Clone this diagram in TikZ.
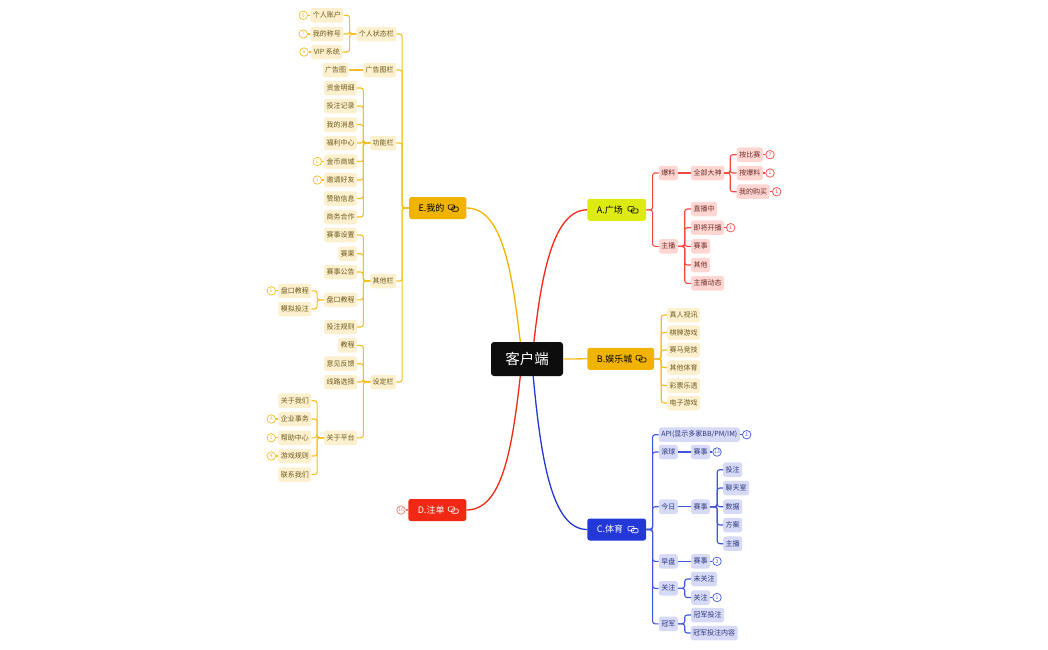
\documentclass[tikz,border=0pt]{standalone}
\usepackage{fontspec}
\setmainfont{Noto Sans CJK SC}
\definecolor{RootClr}{HTML}{0D0D0D}
\definecolor{LimeClr}{HTML}{DDEB12}
\definecolor{AmberClr}{HTML}{F0B400}
\definecolor{RedClr}{HTML}{F02814}
\definecolor{BlueClr}{HTML}{2438D8}
\definecolor{RedLn}{HTML}{F5483C}
\definecolor{AmbLn}{HTML}{F6BE22}
\definecolor{BluLn}{HTML}{3F55E0}
\definecolor{RedBox}{HTML}{FFD6D2}
\definecolor{AmbBox}{HTML}{FCF0CE}
\definecolor{BluBox}{HTML}{D6DAF6}
\definecolor{RedTxt}{HTML}{6E2C26}
\definecolor{AmbTxt}{HTML}{6E581C}
\definecolor{BluTxt}{HTML}{2A347C}
\tikzset{
  box/.style={rounded corners=2.5pt,minimum height=14.5pt,inner xsep=2.5pt,inner ysep=0pt,font=\fontsize{7}{8}\selectfont},
  redbox/.style={box,fill=RedBox,text=RedTxt},
  ambbox/.style={box,fill=AmbBox,text=AmbTxt},
  blubox/.style={box,fill=BluBox,text=BluTxt},
  mainbox/.style={rounded corners=2.5pt,minimum height=22pt,inner xsep=9.5pt,inner ysep=0pt,font=\fontsize{9}{10}\selectfont},
  badge/.style={circle,fill=white,draw,line width=.7pt,minimum size=8.5pt,inner sep=0pt,font=\fontsize{5}{6}\selectfont},
  redbadge/.style={badge,draw=RedLn,text=RedLn},
  ambbadge/.style={badge,draw=AmbLn,text=AmbLn},
  blubadge/.style={badge,draw=BluLn,text=BluLn},
  redln/.style={draw=RedLn,line width=1.1pt,rounded corners=2.5pt},
  ambln/.style={draw=AmbLn,line width=1.1pt,rounded corners=2.5pt},
  bluln/.style={draw=BluLn,line width=1.1pt,rounded corners=2.5pt},
  topicicon/.pic={
    \draw[line width=.6pt,rounded corners=1pt] (-5,-3.2) rectangle (1.2,1.2);
    \draw[line width=.6pt,rounded corners=1pt] (-1.5,-1) rectangle (5,3.2);
  }
}
\begin{document}
\begin{tikzpicture}[x=1pt,y=-1pt]
\useasboundingbox (0,0) rectangle (1048,649);

\node[rounded corners=3pt,fill=RootClr,text=white,minimum width=72pt,minimum height=34pt,inner sep=0pt,font=\fontsize{14.5}{16}\selectfont] (root) at (527,359) {客户端};

\node[mainbox,fill=LimeClr,text=black,text width=39.7pt] (A) at (616.7,209.8) {A.广场};
\node[mainbox,fill=AmberClr,text=black,text width=47.7pt] (B) at (620.7,358.8) {B.娱乐城};
\node[mainbox,fill=BlueClr,text=white,text width=39.7pt] (C) at (616.7,529.5) {C.体育};
\node[mainbox,fill=RedClr,text=white,text width=39pt] (D) at (437.3,510) {D.注单};
\node[mainbox,fill=AmberClr,text=black,text width=38.3pt] (E) at (437.7,208) {E.我的};
\pic[color=black] at ([xshift=-13.3pt]A.east) {topicicon};
\pic[color=black] at ([xshift=-13.3pt]B.east) {topicicon};
\pic[color=white] at ([xshift=-13.3pt]C.east) {topicicon};
\pic[color=white] at ([xshift=-13.3pt]D.east) {topicicon};
\pic[color=black] at ([xshift=-13.3pt]E.east) {topicicon};

\draw[RedClr,line width=1.3pt] (root.north east) ++(-29.3,0) coordinate (rA) .. controls (541,280) and (552,209.8) .. (A.west);
\draw[AmbLn,line width=1.3pt] (root.east) -- (B.west);
\draw[BlueClr,line width=1.3pt] (root.south east) ++(-30,0) coordinate (rC) .. controls (541,460) and (552,529.5) .. (C.west);
\draw[RedClr,line width=1.3pt] (root.south west) ++(29.5,0) coordinate (rD) .. controls (512,450) and (502,510) .. (D.east);
\draw[AmberClr,line width=1.3pt] (root.north west) ++(29.5,0) coordinate (rE) .. controls (512,270) and (502,208) .. (E.east);

% A
\node[redbox] (a1) at (668.3,173) {爆料};
\node[redbox] (a2) at (707.5,173) {全部大神};
\node[redbox] (a3) at (749.8,154.7) {按比赛};
\node[redbox] (a4) at (749.8,173) {按爆料};
\node[redbox] (a5) at (753.2,191.7) {我的购买};
\node[redbox] (a6) at (668.3,246.3) {主播};
\node[redbox] (a7) at (704,209) {直播中};
\node[redbox] (a8) at (707.5,227.7) {即将开播};
\node[redbox] (a9) at (700.5,246.3) {赛事};
\node[redbox] (a10) at (700.5,265) {其他};
\node[redbox] (a11) at (707.5,283.3) {主播动态};
\foreach \k in {a1,a6} \draw[redln] (A.east) -- ++(6.3,0) |- (\k.west);
\draw[redln] (a1) -- (a2);
\foreach \k in {a3,a4,a5} \draw[redln] (a2.east) -- ++(6,0) |- (\k.west);
\foreach \k in {a7,a8,a9,a10,a11} \draw[redln] (a6.east) -- ++(6.7,0) |- (\k.west);
\node[redbadge] (ra) at (770,154.7) {7};
\node[redbadge] (rb) at (770,173) {1};
\node[redbadge] (rc) at (776.7,191.7) {1};
\node[redbadge] (rd) at (730.7,227.7) {1};
\draw[redln] (a3) -- (ra);
\draw[redln] (a4) -- (rb);
\draw[redln] (a5) -- (rc);
\draw[redln] (a8) -- (rd);

% B
\node[ambbox] (b1) at (683.7,315) {真人视讯};
\node[ambbox] (b2) at (683.7,332.5) {棋牌游戏};
\node[ambbox] (b3) at (683.7,350) {赛马竞技};
\node[ambbox] (b4) at (683.7,367.5) {其他体育};
\node[ambbox] (b5) at (683.7,385.5) {彩票乐透};
\node[ambbox] (b6) at (683.7,403) {电子游戏};
\foreach \k in {b1,b2,b3,b4,b5,b6} \draw[ambln] (B.east) -- ++(7,0) |- (\k.west);

% C
\node[blubox] (c1) at (699.3,434.7) {API(显示多家BB/PM/IM)};
\node[blubox] (c2) at (668.3,452) {滚球};
\node[blubox] (c3) at (700.5,452) {赛事};
\node[blubox] (c4) at (668.3,506.7) {今日};
\node[blubox] (c5) at (700.5,506.7) {赛事};
\node[blubox] (c6) at (732.7,469.7) {投注};
\node[blubox] (c7) at (736.2,488) {聊天室};
\node[blubox] (c8) at (732.7,506.7) {数据};
\node[blubox] (c9) at (732.7,525) {方案};
\node[blubox] (c10) at (732.7,543.7) {主播};
\node[blubox] (c11) at (668.3,561.3) {早盘};
\node[blubox] (c12) at (700.5,561.3) {赛事};
\node[blubox] (c13) at (668.3,588.3) {关注};
\node[blubox] (c14) at (704,579) {未关注};
\node[blubox] (c15) at (700.5,597.5) {关注};
\node[blubox] (c16) at (668.3,623.8) {冠军};
\node[blubox] (c17) at (707.5,615) {冠军投注};
\node[blubox] (c18) at (714.2,633) {冠军投注内容};
\foreach \k in {c1,c2,c4,c11,c13,c16} \draw[bluln] (C.east) -- ++(6.3,0) |- (\k.west);
\draw[bluln] (c2) -- (c3);
\draw[bluln] (c4) -- (c5);
\draw[bluln] (c11) -- (c12);
\foreach \k in {c6,c7,c8,c9,c10} \draw[bluln] (c5.east) -- ++(7,0) |- (\k.west);
\foreach \k in {c14,c15} \draw[bluln] (c13.east) -- ++(6.7,0) |- (\k.west);
\foreach \k in {c17,c18} \draw[bluln] (c16.east) -- ++(6.7,0) |- (\k.west);
\node[blubadge] (ba) at (746.7,434.7) {1};
\node[blubadge] (bb) at (717,452) {13};
\node[blubadge] (bc) at (717,561.3) {3};
\node[blubadge] (bd) at (717,597.5) {1};
\draw[bluln] (c1) -- (ba);
\draw[bluln] (c3) -- (bb);
\draw[bluln] (c12) -- (bc);
\draw[bluln] (c15) -- (bd);

% D
\node[badge,draw=RedClr!60,text=RedClr!70] (da) at (401,510) {10};
\draw[RedClr!60,line width=1.1pt] (D) -- (da);

% E
\node[ambbox] (e1) at (376.3,34) {个人状态栏};
\node[ambbox] (e2) at (326.8,15.3) {个人账户};
\node[ambbox] (e3) at (326.8,34) {我的称号};
\node[ambbox] (e4) at (326.8,52) {VIP 系统};
\node[ambbox] (e5) at (379.7,70) {广告图栏};
\node[ambbox] (e6) at (335.7,70) {广告图};
\node[ambbox] (e7) at (383.2,143) {功能栏};
\node[ambbox] (e8) at (340.5,88) {资金明细};
\node[ambbox] (e9) at (340.5,106) {投注记录};
\node[ambbox] (e10) at (340.5,124.5) {我的消息};
\node[ambbox] (e11) at (340.5,143) {福利中心};
\node[ambbox] (e12) at (340.5,161.5) {金币商城};
\node[ambbox] (e13) at (340.5,180) {邀请好友};
\node[ambbox] (e14) at (340.5,198.5) {赞助信息};
\node[ambbox] (e15) at (340.5,217) {商务合作};
\node[ambbox] (e16) at (383.2,281) {其他栏};
\node[ambbox] (e17) at (340.5,235) {赛事设置};
\node[ambbox] (e18) at (347.5,253.7) {赛果};
\node[ambbox] (e19) at (340.5,272) {赛事公告};
\node[ambbox] (e20) at (340.5,299.8) {盘口教程};
\node[ambbox] (e21) at (340.5,327) {投注规则};
\node[ambbox] (e22) at (294.8,290.8) {盘口教程};
\node[ambbox] (e23) at (294.8,309) {模拟投注};
\node[ambbox] (e24) at (383.2,382) {设定栏};
\node[ambbox] (e25) at (347.5,345.3) {教程};
\node[ambbox] (e26) at (340.5,363.7) {意见反馈};
\node[ambbox] (e27) at (340.5,382) {线路选择};
\node[ambbox] (e28) at (340.5,437.8) {关于平台};
\node[ambbox] (e29) at (294.8,400.7) {关于我们};
\node[ambbox] (e30) at (294.8,419) {企业事务};
\node[ambbox] (e31) at (294.8,437.8) {帮助中心};
\node[ambbox] (e32) at (294.8,456) {游戏规则};
\node[ambbox] (e33) at (294.8,474.5) {联系我们};
\foreach \k in {e1,e5,e7,e16,e24} \draw[ambln] (E.west) -- ++(-6.7,0) |- (\k.east);
\foreach \k in {e2,e3,e4} \draw[ambln] (e1.west) -- ++(-6.5,0) |- (\k.east);
\draw[ambln] (e5) -- (e6);
\foreach \k in {e8,e9,e10,e11,e12,e13,e14,e15} \draw[ambln] (e7.west) -- ++(-6.7,0) |- (\k.east);
\foreach \k in {e17,e18,e19,e20,e21} \draw[ambln] (e16.west) -- ++(-6.7,0) |- (\k.east);
\foreach \k in {e22,e23} \draw[ambln] (e20.west) -- ++(-6.7,0) |- (\k.east);
\foreach \k in {e25,e26,e27,e28} \draw[ambln] (e24.west) -- ++(-6.7,0) |- (\k.east);
\foreach \k in {e29,e30,e31,e32,e33} \draw[ambln] (e28.west) -- ++(-6.7,0) |- (\k.east);
\node[ambbadge] (aa) at (303.3,15.3) {9};
\node[ambbadge] (ab) at (303.3,34) {7};
\node[ambbadge] (ac) at (304,52) {8};
\node[ambbadge] (ad) at (317.3,161.5) {6};
\node[ambbadge] (ae) at (317.3,180) {1};
\node[ambbadge] (af) at (271.3,290.8) {6};
\node[ambbadge] (ag) at (271.3,419) {4};
\node[ambbadge] (ah) at (271.3,437.8) {5};
\node[ambbadge] (ai) at (271.3,456) {4};
\draw[ambln] (e2) -- (aa);
\draw[ambln] (e3) -- (ab);
\draw[ambln] (e4) -- (ac);
\draw[ambln] (e12) -- (ad);
\draw[ambln] (e13) -- (ae);
\draw[ambln] (e22) -- (af);
\draw[ambln] (e30) -- (ag);
\draw[ambln] (e31) -- (ah);
\draw[ambln] (e32) -- (ai);
\end{tikzpicture}
\end{document}
